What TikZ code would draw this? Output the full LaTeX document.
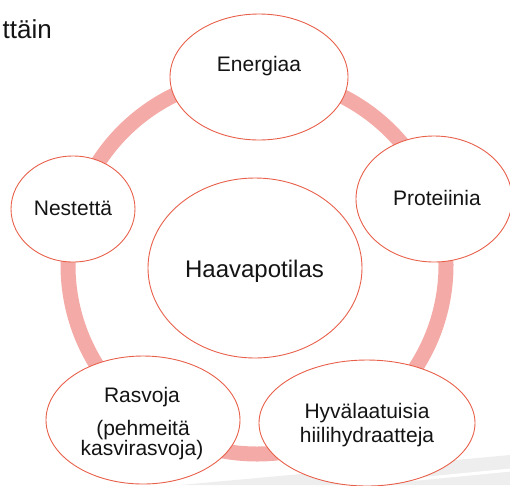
\documentclass[tikz,border=0pt]{standalone}
\usepackage{fontspec}
\setmainfont{Liberation Sans}
\usetikzlibrary{shapes.geometric}
\definecolor{ringpink}{HTML}{F4ABA7}
\definecolor{edgered}{HTML}{E8604A}
\definecolor{bandgrey}{HTML}{EEEEEE}
\definecolor{ink}{HTML}{141414}
\begin{document}
\begin{tikzpicture}[x=1pt,y=-1pt,
  bub/.style={ellipse, draw=edgered, line width=0.9pt, fill=white, inner sep=0},
  txt/.style={font=\fontsize{21}{24}\selectfont, inner sep=0, anchor=base, text=ink}]
\useasboundingbox (0,0) rectangle (510,485);
% footer band
\fill[bandgrey] (180,485) -- (510,455) -- (510,485) -- cycle;
\draw[white, line width=3pt] (345,486) -- (511,470);
% ring
\node[circle, draw=ringpink, line width=15pt, minimum size=378pt, inner sep=0] (ring) at (257,265) {};
% ellipses
\node[bub, minimum width=178pt, minimum height=126pt] (energiaa) at (259,77) {};
\node[bub, minimum width=156pt, minimum height=126pt] (proteiinia) at (434,199) {};
\node[bub, minimum width=124pt, minimum height=106pt] (nestetta) at (73,209) {};
\node[bub, minimum width=214pt, minimum height=180pt] (haava) at (255,268) {};
\node[bub, minimum width=194pt, minimum height=128pt] (rasvoja) at (143,420) {};
\node[bub, minimum width=216pt, minimum height=126pt] (hyva) at (367,423) {};
% title fragment
\node[font=\fontsize{26}{30}\selectfont, inner sep=0, anchor=base east, text=ink] (title) at (52,38) {ttäin};
% texts
\node[txt] (tenergiaa) at (259,71) {Energiaa};
\node[txt] (tproteiinia) at (437,205) {Proteiinia};
\node[txt] (tnestetta) at (73,215) {Nestettä};
\node[txt, font=\fontsize{24}{28}\selectfont] (thaava) at (254.5,277) {Haavapotilas};
\node[txt] (trasvoja1) at (142,402) {Rasvoja};
\node[txt] (trasvoja2) at (143,435) {(pehmeitä};
\node[txt] (trasvoja3) at (142,455) {kasvirasvoja)};
\node[txt] (thyva1) at (367,418) {Hyvälaatuisia};
\node[txt] (thyva2) at (367,442) {hiilihydraatteja};
\end{tikzpicture}
\end{document}
